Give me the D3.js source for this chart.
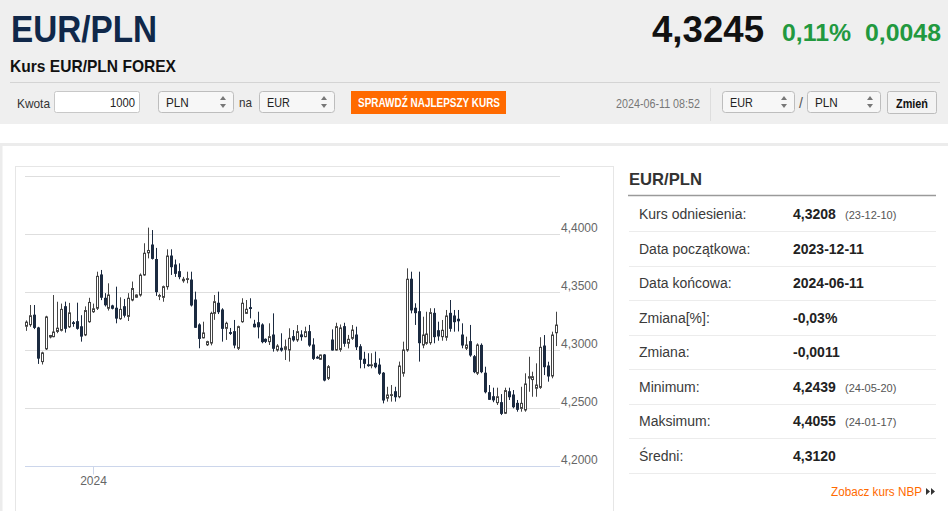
<!DOCTYPE html>
<html><head><meta charset="utf-8">
<script src="https://cdn.jsdelivr.net/npm/d3@7"></script>
<style>
html,body{margin:0;padding:0;background:#fff;overflow:hidden;}
svg{display:block;font-family:"Liberation Sans",Arial,Helvetica,sans-serif;}
</style></head><body>
<svg id="c" width="948" height="511"></svg>
<script>
// ---------- data ----------
const opens = [4.3205,4.3218,4.3300,4.3190,4.2900,4.3010,4.3112,4.3115,4.3160,4.3170,4.3373,4.3200,4.3235,4.3244,4.3200,4.3130,4.3244,4.3330,4.3360,4.3647,4.3446,4.3360,4.3380,4.3360,4.3270,4.3373,4.3290,4.3431,4.3455,4.3474,4.3647,4.3838,4.3905,4.3780,4.3466,4.3454,4.3546,4.3810,4.3733,4.3675,4.3597,4.3610,4.3603,4.3431,4.3216,4.3105,4.3045,4.3060,4.3316,4.3403,4.3345,4.3187,4.3150,4.3158,4.3015,4.3244,4.3316,4.3365,4.3222,4.3235,4.3216,4.3092,4.3072,4.3129,4.3000,4.3015,4.3006,4.3000,4.3115,4.3087,4.3130,4.3115,4.3158,4.3043,4.2937,4.2920,4.2957,4.2756,4.3086,4.3000,4.3005,4.3201,4.3058,4.3101,4.3129,4.3028,4.2920,4.2872,4.2868,4.2885,4.2870,4.2800,4.2585,4.2610,4.2640,4.2597,4.2800,4.3000,4.3610,4.3360,4.3330,4.3043,4.3058,4.3063,4.3316,4.3166,4.3115,4.3110,4.3316,4.3293,4.3265,4.3129,4.3015,4.3072,4.2942,4.2800,4.3040,4.2800,4.2632,4.2597,4.2546,4.2546,4.2455,4.2640,4.2612,4.2540,4.2497,4.2483,4.2758,4.2745,4.2670,4.2678,4.3034,4.2862,4.2776,4.3149];
const highs = [4.3255,4.3388,4.3388,4.3200,4.2985,4.3295,4.3130,4.3474,4.3416,4.3400,4.3417,4.3406,4.3250,4.3408,4.3300,4.3376,4.3450,4.3400,4.3675,4.3690,4.3490,4.3575,4.3390,4.3546,4.3454,4.3440,4.3490,4.3590,4.3480,4.3660,4.3920,4.4055,4.4034,4.3880,4.3485,4.3555,4.3868,4.3868,4.3780,4.3747,4.3630,4.3675,4.3675,4.3503,4.3230,4.3244,4.3080,4.3330,4.3474,4.3503,4.3360,4.3244,4.3190,4.3259,4.3210,4.3446,4.3431,4.3446,4.3260,4.3330,4.3230,4.3100,4.3230,4.3316,4.3050,4.3144,4.3090,4.3187,4.3172,4.3215,4.3170,4.3201,4.3216,4.3101,4.2950,4.2960,4.2965,4.2870,4.3178,4.3235,4.3220,4.3235,4.3130,4.3215,4.3201,4.3050,4.2985,4.2972,4.2972,4.2986,4.2928,4.2810,4.2683,4.2698,4.2683,4.2900,4.3072,4.3704,4.3675,4.3403,4.3675,4.3287,4.3330,4.3360,4.3360,4.3244,4.3259,4.3345,4.3431,4.3345,4.3345,4.3230,4.3115,4.3216,4.2957,4.3057,4.3057,4.2856,4.2698,4.2675,4.2675,4.2620,4.2675,4.2675,4.2655,4.2569,4.2683,4.2799,4.2942,4.2813,4.2885,4.3110,4.3129,4.2899,4.3158,4.3330];
const lows = [4.3165,4.3200,4.3180,4.2880,4.2875,4.3000,4.3100,4.3110,4.3145,4.3160,4.3150,4.3190,4.3200,4.3175,4.3072,4.3120,4.3235,4.3320,4.3345,4.3430,4.3375,4.3340,4.3350,4.3230,4.3260,4.3280,4.3250,4.3420,4.3450,4.3460,4.3640,4.3790,4.3780,4.3466,4.3430,4.3416,4.3520,4.3647,4.3630,4.3610,4.3580,4.3575,4.3375,4.3190,4.3015,4.3100,4.3035,4.3040,4.3260,4.3310,4.3072,4.3087,4.3130,4.3015,4.3000,4.3235,4.3310,4.3273,4.3195,4.3100,4.3058,4.3060,4.3043,4.2986,4.2986,4.2986,4.2914,4.2900,4.3072,4.3070,4.3080,4.3110,4.3028,4.2914,4.2925,4.2915,4.2730,4.2741,4.2995,4.2995,4.2985,4.3028,4.3014,4.3087,4.3000,4.2842,4.2842,4.2856,4.2842,4.2842,4.2785,4.2540,4.2555,4.2555,4.2555,4.2584,4.2770,4.2985,4.3316,4.3216,4.2900,4.3015,4.3045,4.3045,4.3058,4.3080,4.3080,4.3080,4.3158,4.3158,4.3160,4.3015,4.3000,4.2942,4.2800,4.2784,4.2800,4.2626,4.2569,4.2550,4.2526,4.2439,4.2448,4.2569,4.2497,4.2468,4.2468,4.2468,4.2640,4.2597,4.2597,4.2665,4.2784,4.2727,4.2756,4.3034];
const closes = [4.3240,4.3295,4.3195,4.2930,4.2975,4.3285,4.3125,4.3155,4.3188,4.3350,4.3187,4.3320,4.3232,4.3187,4.3120,4.3340,4.3410,4.3355,4.3635,4.3455,4.3390,4.3474,4.3360,4.3275,4.3350,4.3300,4.3446,4.3530,4.3474,4.3645,4.3834,4.3858,4.3790,4.3503,4.3470,4.3546,4.3810,4.3718,4.3661,4.3632,4.3610,4.3615,4.3388,4.3196,4.3100,4.3147,4.3072,4.3316,4.3416,4.3330,4.3187,4.3230,4.3145,4.3043,4.3201,4.3403,4.3351,4.3358,4.3200,4.3200,4.3072,4.3075,4.3115,4.3015,4.3034,4.3000,4.3028,4.3101,4.3087,4.3158,4.3115,4.3158,4.3043,4.2928,4.2935,4.2957,4.2741,4.2856,4.3000,4.3201,4.3190,4.3058,4.3092,4.3172,4.3028,4.2920,4.2885,4.2868,4.2872,4.2856,4.2800,4.2569,4.2612,4.2615,4.2597,4.2862,4.3000,4.3610,4.3345,4.3322,4.3063,4.3129,4.3138,4.3322,4.3115,4.3121,4.3170,4.3293,4.3187,4.3244,4.3252,4.3043,4.3043,4.2957,4.2813,4.3043,4.2813,4.2640,4.2575,4.2570,4.2597,4.2454,4.2650,4.2597,4.2511,4.2489,4.2540,4.2707,4.2770,4.2770,4.2698,4.3023,4.2856,4.2776,4.3129,4.3215];
const yTickValues = [4.20, 4.25, 4.30, 4.35, 4.40, 4.45];
const yLabelledTicks = [4.20, 4.25, 4.30, 4.35, 4.40];
const xTickLabels = ["2024"];
const xTickCandle = [17];

const pairTitle = "EUR/PLN";
const quoteRate = "4,3245", quotePct = "0,11%", quoteChg = "0,0048";
const statLabels = ["Kurs odniesienia:","Data początkowa:","Data końcowa:","Zmiana[%]:","Zmiana:","Minimum:","Maksimum:","Średni:"];
const statValues = ["4,3208","2023-12-11","2024-06-11","-0,03%","-0,0011","4,2439","4,4055","4,3120"];
const statDates  = ["(23-12-10)","","","","","(24-05-20)","(24-01-17)",""];

// ---------- page ----------
const svg = d3.select("#c");
const fmt = v => d3.format(".4f")(v).replace(".", ",");

// backgrounds
svg.append("rect").attr("x",0).attr("y",0).attr("width",948).attr("height",124).attr("fill","#efefef");
svg.append("rect").attr("x",0).attr("y",143).attr("width",948).attr("height",3).attr("fill","#ececec");
svg.append("rect").attr("x",0).attr("y",143).attr("width",2.5).attr("height",368).attr("fill","#ececec");

function t(g, x, y, str, o) {
  const el = g.append("text").attr("x", x).attr("y", y).text(str)
    .attr("font-size", o.size).attr("fill", o.fill || "#333")
    .attr("font-weight", o.weight || "normal");
  if (o.len) el.attr("textLength", o.len).attr("lengthAdjust", "spacingAndGlyphs");
  if (o.anchor) el.attr("text-anchor", o.anchor);
  return el;
}

const hdr = svg.append("g");
t(hdr, 11, 41.5, pairTitle, {size:37, weight:"bold", fill:"#10284a", len:146});
t(hdr, 652, 42, quoteRate, {size:37, weight:"bold", fill:"#111", len:112});
t(hdr, 782, 41, quotePct, {size:23, weight:"bold", fill:"#22993f", len:69});
t(hdr, 865, 41, quoteChg, {size:23, weight:"bold", fill:"#22993f", len:76});
t(hdr, 10, 72, "Kurs EUR/PLN FOREX", {size:17, weight:"bold", fill:"#111", len:166});
hdr.append("line").attr("x1",10).attr("x2",940).attr("y1",82.5).attr("y2",82.5).attr("stroke","#d4d4d4");

t(hdr, 17, 108, "Kwota", {size:13, fill:"#333", len:33});
hdr.append("rect").attr("x",54.5).attr("y",91.5).attr("width",85).attr("height",21).attr("rx",2)
  .attr("fill","#fff").attr("stroke","#c8c8c8");
t(hdr, 135, 107, "1000", {size:13, fill:"#222", len:25, anchor:"end"});

function selectBox(x, w, label) {
  const g = hdr.append("g");
  g.append("rect").attr("x",x+0.5).attr("y",91.5).attr("width",w).attr("height",21).attr("rx",3)
    .attr("fill","#f7f7f7").attr("stroke","#bdbdbd");
  t(g, x+8, 107, label, {size:13, fill:"#222", len:label.length*7.6});
  const ax = x + w - 10;
  g.append("path").attr("d",`M${ax-3},100 L${ax+3},100 L${ax},96 Z`).attr("fill","#777");
  g.append("path").attr("d",`M${ax-3},104 L${ax+3},104 L${ax},108 Z`).attr("fill","#777");
}
selectBox(158, 75, "PLN");
t(hdr, 239, 107, "na", {size:13, fill:"#333", len:13});
selectBox(259, 75, "EUR");
hdr.append("rect").attr("x",351).attr("y",91).attr("width",155).attr("height",23).attr("fill","#ff6a00");
t(hdr, 358, 107, "SPRAWDŹ NAJLEPSZY KURS", {size:12, weight:"bold", fill:"#fff", len:142});
t(hdr, 616, 108, "2024-06-11 08:52", {size:12, fill:"#777", len:84});
hdr.append("line").attr("x1",710.5).attr("x2",710.5).attr("y1",88).attr("y2",121).attr("stroke","#dddddd");
selectBox(722, 72, "EUR");
t(hdr, 799, 108, "/", {size:14, fill:"#555"});
selectBox(807, 73, "PLN");
hdr.append("rect").attr("x",887.5).attr("y",91.5).attr("width",49).attr("height",22).attr("rx",2)
  .attr("fill","#f3f3f3").attr("stroke","#bdbdbd");
t(hdr, 912, 108, "Zmień", {size:13, weight:"bold", fill:"#111", len:32, anchor:"middle"});

// ---------- chart ----------
svg.append("rect").attr("x",15.5).attr("y",166.5).attr("width",598).attr("height",360)
  .attr("fill","#fff").attr("stroke","#e6e6e6");

const idx = d3.range(opens.length);
const x = d3.scaleLinear().domain([0, opens.length - 1]).range([26, 556]);
const y = d3.scaleLinear().domain([4.20, 4.45]).range([466, 176]);
const plotL = 25, plotR = 560;

const chart = svg.append("g");
chart.selectAll("line.grid").data(yTickValues.slice(1)).join("line")
  .attr("x1", plotL).attr("x2", plotR)
  .attr("y1", d => Math.round(y(d)) + 0.5).attr("y2", d => Math.round(y(d)) + 0.5)
  .attr("stroke", "#dedede");

const yAxis = d3.axisRight(y).tickValues(yLabelledTicks).tickFormat(fmt).tickSize(0).tickPadding(0);
const ya = chart.append("g").attr("transform", `translate(${plotL + 536},0)`).call(yAxis);
ya.select(".domain").remove();
ya.selectAll("text").attr("fill","#666").attr("font-size",12).attr("dy","-0.2em")
  .attr("font-family",'"Liberation Sans",Arial,sans-serif');

// x axis
const xa = chart.append("g").attr("transform", `translate(0,${Math.round(y(4.20)) + 0.5})`);
xa.append("line").attr("x1", plotL).attr("x2", plotR).attr("stroke", "#ccd6eb");
const xt = xa.selectAll("g.tick").data(xTickCandle).join("g")
  .attr("transform", d => `translate(${Math.round(x(d)) + 0.5},0)`);
xt.append("line").attr("y1", 0).attr("y2", 8).attr("stroke", "#ccd6eb");
xt.append("text").attr("y", 18).attr("text-anchor","middle").attr("fill","#666").attr("font-size",12)
  .text((d, i) => xTickLabels[i]);

// candles
const cg = chart.append("g");
const isUp = i => closes[i] >= opens[i];
const cx = i => Math.round(x(i) - 1) + 1.5;
cg.selectAll("line.wick").data(idx).join("line")
  .attr("x1", cx).attr("x2", cx)
  .attr("y1", i => y(highs[i])).attr("y2", i => y(lows[i]))
  .attr("stroke", i => isUp(i) ? "#444" : "#1b2a40").attr("stroke-width", 1);
cg.selectAll("rect.body").data(idx).join("rect")
  .attr("x", i => cx(i) - 1)
  .attr("width", 2)
  .attr("y", i => y(Math.max(opens[i], closes[i])))
  .attr("height", i => Math.max(0.8, y(Math.min(opens[i], closes[i])) - y(Math.max(opens[i], closes[i]))))
  .attr("fill", i => isUp(i) ? "#ffffff" : "#1b2a40")
  .attr("stroke", i => isUp(i) ? "#444" : "#1b2a40").attr("stroke-width", 1);

// ---------- stats panel ----------
const sp = svg.append("g");
t(sp, 629, 185, pairTitle, {size:17, weight:"bold", fill:"#333", len:73});
sp.append("line").attr("x1",628).attr("x2",936).attr("y1",195.5).attr("y2",195.5).attr("stroke","#9a9a9a").attr("stroke-width",1.3);
const rowY = d3.scaleLinear().domain([0, 7]).range([219, 461]);
const rows = sp.selectAll("g.row").data(statLabels).join("g");
rows.append("text").attr("x",639).attr("y",(d,i)=>rowY(i)).attr("font-size",14).attr("fill","#3a3a3a").text(d=>d);
rows.append("text").attr("x",793).attr("y",(d,i)=>rowY(i)).attr("font-size",14).attr("font-weight","bold").attr("fill","#222")
  .text((d,i)=>statValues[i]);
rows.append("text").attr("x",845).attr("y",(d,i)=>rowY(i)).attr("font-size",11).attr("fill","#555")
  .text((d,i)=>statDates[i]);
rows.append("line").attr("x1",629).attr("x2",936)
  .attr("y1",(d,i)=>Math.round(rowY(i) + 12) + 0.5).attr("y2",(d,i)=>Math.round(rowY(i) + 12) + 0.5)
  .attr("stroke","#ececec");
t(sp, 831, 496, "Zobacz kurs NBP", {size:12.5, fill:"#ff6a00", len:91});
sp.append("path").attr("d","M926,488 L930,491.5 L926,495 Z M931,488 L935,491.5 L931,495 Z").attr("fill","#333");
</script>
</body></html>
